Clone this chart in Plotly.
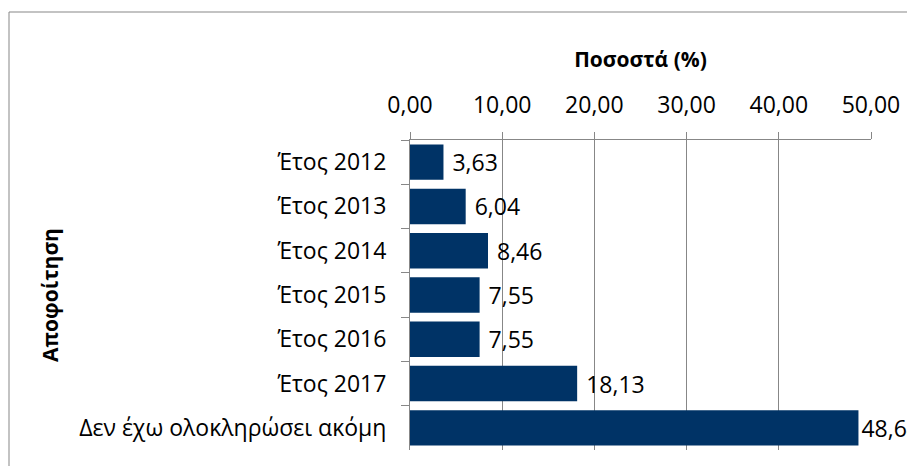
import plotly.graph_objects as go

categories = ["Έτος 2012", "Έτος 2013", "Έτος 2014", "Έτος 2015",
              "Έτος 2016", "Έτος 2017", "Δεν έχω ολοκληρώσει ακόμη"]
values = [3.63, 6.04, 8.46, 7.55, 7.55, 18.13, 48.64]
tick_vals = [0, 10, 20, 30, 40, 50]

FONT = "Open Sans, sans-serif"
FS = 23
GRAY = "#878787"
# the page body adds an 8px offset, so the figure is drawn 8px smaller
W, H = 907, 458
ML, MR, MT, MB = 402, 44, 132, 16
pw, ph = W - ML - MR, H - MT - MB

label_tpl = [" %{x:.2f}"] * (len(values) - 1) + ["%{x:.2f}"]

fig = go.Figure(go.Bar(
    x=values, y=categories, orientation="h",
    marker=dict(color="#003366", line=dict(width=0)),
    width=0.8,
    texttemplate=label_tpl, textposition="outside",
    textfont=dict(family=FONT, size=FS, color="#000000"),
    cliponaxis=False, constraintext="none",
))

fig.update_layout(
    width=W, height=H, template="none",
    separators=",.",
    paper_bgcolor="white", plot_bgcolor="white",
    margin=dict(l=ML, r=MR, t=MT, b=MB, pad=0),
    font=dict(family=FONT, size=FS, color="#000000"),
    showlegend=False,
    xaxis=dict(
        side="top", range=[0, 50], tickvals=tick_vals, tickformat=".2f",
        showgrid=True, gridcolor=GRAY, gridwidth=1,
        showline=True, linecolor=GRAY, linewidth=1,
        ticks="outside", ticklen=7, tickcolor=GRAY, tickwidth=1,
        zeroline=False, automargin=False,
        ticklabelstandoff=10,
        tickfont=dict(family=FONT, size=FS),
        title=dict(text="<b>Ποσοστά (%)</b>", font=dict(family=FONT, size=21), standoff=14),
    ),
    yaxis=dict(
        autorange="reversed", type="category",
        showgrid=False, showline=True, linecolor=GRAY, linewidth=1,
        ticks="outside", ticklen=8, tickcolor=GRAY, tickwidth=1,
        tickson="boundaries", automargin=False,
        ticklabelstandoff=18,
        tickfont=dict(family=FONT, size=FS),
        title=dict(text="<b>Αποφοίτηση</b>", font=dict(family=FONT, size=21), standoff=14),
    ),
    shapes=[dict(
        type="rect", xref="paper", yref="paper",
        x0=(1 - ML) / pw, x1=(W + 20 - ML) / pw,
        y0=-(H + 20 - MT - ph) / ph, y1=1 + (MT - 4) / ph,
        line=dict(color=GRAY, width=1), fillcolor="rgba(0,0,0,0)", layer="below",
    )],
)

fig.write_html("out.html")
